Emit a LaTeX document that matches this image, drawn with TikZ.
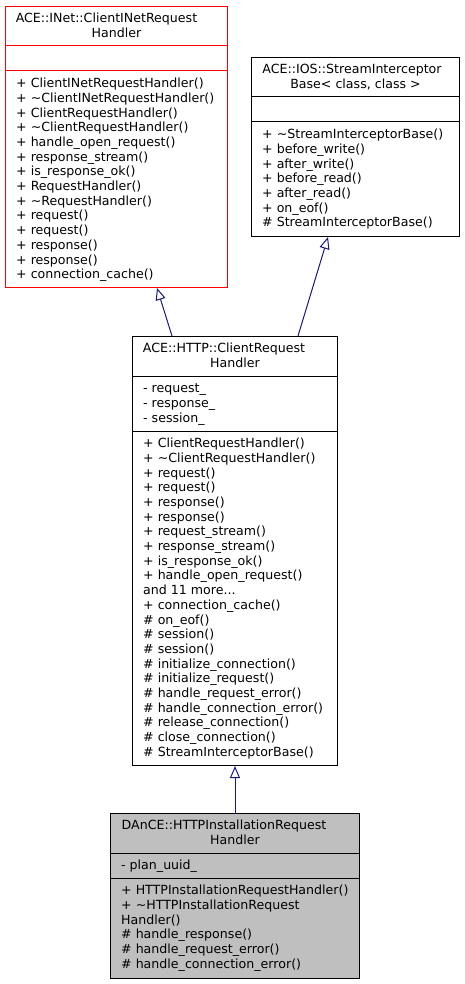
\documentclass[tikz,border=0pt]{standalone}
\usepackage{fontspec}
\setmainfont{DejaVu Sans}
\usetikzlibrary{arrows.meta,positioning,calc}
\definecolor{EdgeNavy}{HTML}{191970}
\definecolor{FocusGray}{HTML}{BFBFBF}

\begin{document}
\begin{tikzpicture}[x=1pt,y=-1pt,
  font=\fontsize{12.6}{14.7}\selectfont,
  classbox/.style={line width=1pt,inner sep=0pt},
  classtitle/.style={align=center,inner sep=0pt},
  members/.style={align=left,inner sep=0pt},
  inherit/.style={draw=EdgeNavy,line width=1pt,-{Triangle[open,length=12pt,width=10pt]}}]
  \useasboundingbox (0,0) rectangle (464,984);
  % name, look, corner, width, height, second rule, title, attributes, operations
  \def\umlclass#1#2#3#4#5#6#7#8#9{
    \node[classbox,#2,minimum width=#4pt,minimum height=#5pt,anchor=north west] (#1) at (#3) {};
    \draw[#2,line width=1pt] ([yshift=-40pt]#1.north west) -- ([yshift=-40pt]#1.north east);
    \draw[#2,line width=1pt] ([yshift=-#6pt]#1.north west) -- ([yshift=-#6pt]#1.north east);
    \node[classtitle,anchor=north] (#1-name) at ([yshift=-6.2pt]#1.north) {\strut #7};
    \node[members,anchor=north west] (#1-attrs) at ([xshift=11pt,yshift=-46.2pt]#1.north west) {\strut #8};
    \node[members,anchor=north west] (#1-ops) at ([xshift=11pt,yshift=-#6pt-6.2pt]#1.north west) {\strut #9};
  }
  \umlclass{inet}{draw=red}{5,6}{222}{281}{65}
    {ACE::INet::ClientINetRequest\hspace*{20pt}\\Handler}{}
    {+ ClientINetRequestHandler()\\
     + \textasciitilde ClientINetRequestHandler()\\
     + ClientRequestHandler()\\
     + \textasciitilde ClientRequestHandler()\\
     + handle\_open\_request()\\
     + response\_stream()\\
     + is\_response\_ok()\\
     + RequestHandler()\\
     + \textasciitilde RequestHandler()\\
     + request()\\
     + request()\\
     + response()\\
     + response()\\
     + connection\_cache()}
  \umlclass{ios}{draw=black}{251,57}{208}{179}{65}
    {ACE::IOS::StreamInterceptor\hspace*{7pt}\\Base< class, class >}{}
    {+ \textasciitilde StreamInterceptorBase()\\
     + before\_write()\\
     + after\_write()\\
     + before\_read()\\
     + after\_read()\\
     + on\_eof()\\
     \# StreamInterceptorBase()}
  \umlclass{http}{draw=black}{132,336}{205}{429}{95}
    {ACE::HTTP::ClientRequest\hspace*{22pt}\\Handler}
    {- request\_\\
     - response\_\\
     - session\_}
    {+ ClientRequestHandler()\\
     + \textasciitilde ClientRequestHandler()\\
     + request()\\
     + request()\\
     + response()\\
     + response()\\
     + request\_stream()\\
     + response\_stream()\\
     + is\_response\_ok()\\
     + handle\_open\_request()\\
     and 11 more...\\
     + connection\_cache()\\
     \# on\_eof()\\
     \# session()\\
     \# session()\\
     \# initialize\_connection()\\
     \# initialize\_request()\\
     \# handle\_request\_error()\\
     \# handle\_connection\_error()\\
     \# release\_connection()\\
     \# close\_connection()\\
     \# StreamInterceptorBase()}
  \umlclass{dance}{draw=black,fill=FocusGray}{110,813}{249}{165}{65}
    {DAnCE::HTTPInstallationRequest\hspace*{22pt}\\Handler}
    {- plan\_uuid\_}
    {+ HTTPInstallationRequestHandler()\\
     + \textasciitilde HTTPInstallationRequest\\
     Handler()\\
     \# handle\_response()\\
     \# handle\_request\_error()\\
     \# handle\_connection\_error()}
  % generalisations
  \draw[inherit] ([xshift=40pt]http.north west) -- ([xshift=152pt]inet.south west);
  \draw[inherit] ([xshift=166pt]http.north west) -- ([xshift=77pt]ios.south west);
  \draw[inherit] (dance.north) -- (http.south);
\end{tikzpicture}
\end{document}
